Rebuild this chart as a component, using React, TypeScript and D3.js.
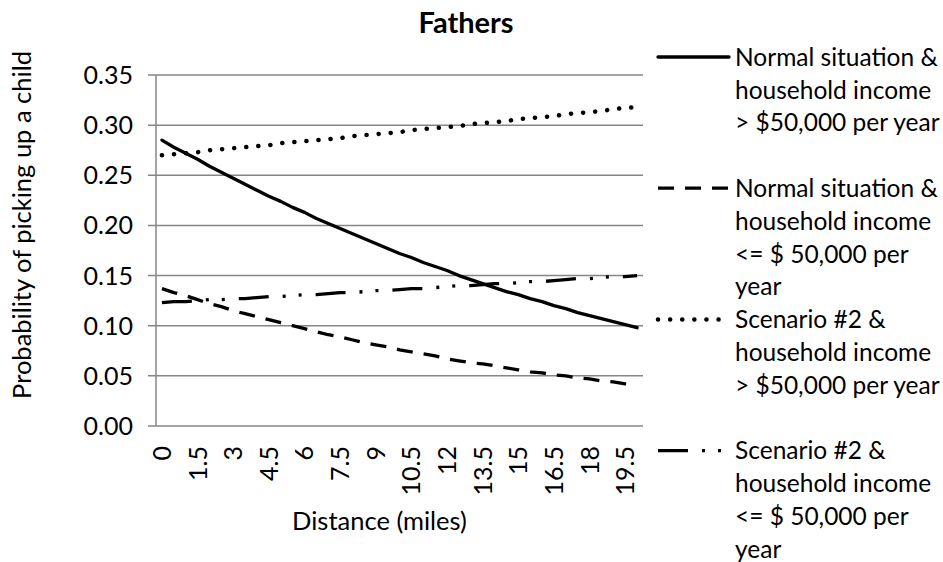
import React, { useEffect, useRef } from 'react'
import * as d3 from 'd3'

// distance categories (miles), every half mile
const distances = [
  0, 0.5, 1, 1.5, 2, 2.5, 3, 3.5, 4, 4.5, 5, 5.5, 6, 6.5, 7, 7.5, 8, 8.5, 9, 9.5, 10,
  10.5, 11, 11.5, 12, 12.5, 13, 13.5, 14, 14.5, 15, 15.5, 16, 16.5, 17, 17.5, 18, 18.5, 19, 19.5, 20,
]

const xTickLabels = ['0', '1.5', '3', '4.5', '6', '7.5', '9', '10.5', '12', '13.5', '15', '16.5', '18', '19.5']
const yTicks = [0, 0.05, 0.1, 0.15, 0.2, 0.25, 0.3, 0.35]

const normalHigh = [
  0.285, 0.278, 0.272, 0.266, 0.259, 0.253, 0.247, 0.241, 0.235, 0.229, 0.224, 0.218, 0.213, 0.207,
  0.202, 0.197, 0.192, 0.187, 0.182, 0.177, 0.172, 0.168, 0.163, 0.159, 0.155, 0.150, 0.146, 0.142,
  0.138, 0.134, 0.131, 0.127, 0.124, 0.120, 0.117, 0.113, 0.110, 0.107, 0.104, 0.101, 0.098,
]
const normalLow = [
  0.137, 0.133, 0.130, 0.126, 0.122, 0.119, 0.115, 0.112, 0.109, 0.106, 0.103, 0.100, 0.097, 0.094,
  0.091, 0.089, 0.086, 0.083, 0.081, 0.079, 0.076, 0.074, 0.072, 0.070, 0.067, 0.065, 0.063, 0.062,
  0.060, 0.058, 0.056, 0.054, 0.053, 0.051, 0.050, 0.048, 0.047, 0.045, 0.044, 0.042, 0.041,
]
const scenarioHigh = [
  0.270, 0.271, 0.272, 0.273, 0.275, 0.276, 0.277, 0.278, 0.279, 0.280, 0.282, 0.283, 0.284, 0.285,
  0.286, 0.287, 0.289, 0.290, 0.291, 0.292, 0.293, 0.295, 0.296, 0.297, 0.298, 0.299, 0.301, 0.302,
  0.303, 0.304, 0.306, 0.307, 0.308, 0.309, 0.311, 0.312, 0.313, 0.314, 0.316, 0.317, 0.318,
]
const scenarioLow = [
  0.123, 0.124, 0.124, 0.125, 0.126, 0.126, 0.127, 0.127, 0.128, 0.129, 0.129, 0.130, 0.131, 0.131,
  0.132, 0.133, 0.133, 0.134, 0.135, 0.135, 0.136, 0.137, 0.137, 0.138, 0.139, 0.140, 0.140, 0.141,
  0.142, 0.142, 0.143, 0.144, 0.144, 0.145, 0.146, 0.147, 0.147, 0.148, 0.149, 0.149, 0.150,
]

const seriesLabels = [
  ['Normal situation &', 'household income', '> $50,000 per year'],
  ['Normal situation &', 'household income', '<= $ 50,000 per', 'year'],
  ['Scenario #2 &', 'household income', '> $50,000 per year'],
  ['Scenario #2 &', 'household income', '<= $ 50,000 per', 'year'],
]

const FONT = 'Lato, Carlito, "Open Sans", sans-serif'

export default function App() {
  const svgRef = useRef<SVGSVGElement>(null)

  useEffect(() => {
    if (!svgRef.current) return
    const svg = d3.select(svgRef.current)
    svg.selectAll('*').remove()

    const W = 943
    const H = 562
    const plot = { left: 156, right: 643, top: 75, bottom: 426 }

    svg.attr('width', W).attr('height', H).style('font-family', FONT)
    svg.append('rect').attr('width', W).attr('height', H).attr('fill', '#fff')

    const x = d3.scalePoint<number>()
      .domain(distances)
      .range([plot.left, plot.right])
      .padding(0.5)

    const y = d3.scaleLinear()
      .domain([0, 0.35])
      .range([plot.bottom, plot.top])

    const gridColor = '#868686'

    // gridlines + y tick stubs
    svg.append('g')
      .selectAll('line')
      .data(yTicks)
      .enter().append('line')
      .attr('x1', plot.left - 8)
      .attr('x2', plot.right)
      .attr('y1', d => y(d))
      .attr('y2', d => y(d))
      .attr('stroke', gridColor)
      .attr('stroke-width', 1.5)

    // y axis line
    svg.append('line')
      .attr('x1', plot.left).attr('x2', plot.left)
      .attr('y1', plot.top).attr('y2', plot.bottom)
      .attr('stroke', gridColor)
      .attr('stroke-width', 1.5)

    // y tick labels
    svg.append('g')
      .selectAll('text')
      .data(yTicks)
      .enter().append('text')
      .attr('x', plot.left - 23)
      .attr('y', d => y(d))
      .attr('dy', '0.36em')
      .attr('text-anchor', 'end')
      .attr('fill', '#000')
      .style('font-size', '25px')
      .text(d => d3.format('.2f')(d))

    // x tick labels, rotated
    svg.append('g')
      .selectAll('text')
      .data(xTickLabels)
      .enter().append('text')
      .attr('transform', d => `translate(${x(+d)},446) rotate(-90)`)
      .attr('dy', '0.36em')
      .attr('text-anchor', 'end')
      .attr('fill', '#000')
      .style('font-size', '25px')
      .text(d => d)

    // title
    svg.append('text')
      .attr('x', 466)
      .attr('y', 33)
      .attr('text-anchor', 'middle')
      .style('font-size', '29px')
      .style('font-weight', 'bold')
      .text('Fathers')

    // axis titles
    svg.append('text')
      .attr('x', (plot.left + plot.right) / 2 - 20)
      .attr('y', 530)
      .attr('text-anchor', 'middle')
      .style('font-size', '25.5px')
      .text('Distance (miles)')

    svg.append('text')
      .attr('transform', `translate(31,225) rotate(-90)`)
      .attr('text-anchor', 'middle')
      .style('font-size', '25.5px')
      .text('Probability of picking up a child')

    const styles = [
      { values: normalHigh, dash: null, cap: 'round', width: 3.3 },
      { values: normalLow, dash: '16 11', cap: 'butt', width: 3.3 },
      { values: scenarioHigh, dash: '0.1 12', cap: 'round', width: 4.5 },
      { values: scenarioLow, dash: '30 14 3 13 3 14', cap: 'butt', width: 3.3 },
    ]

    const line = d3.line<number>()
      .x((_, i) => x(distances[i]) || 0)
      .y(d => y(d))

    styles.forEach(s => {
      svg.append('path')
        .datum(s.values)
        .attr('fill', 'none')
        .attr('stroke', '#000')
        .attr('stroke-width', s.width)
        .attr('stroke-linecap', s.cap)
        .attr('stroke-linejoin', 'round')
        .attr('stroke-dasharray', s.dash)
        .attr('d', line)
    })

    // legend
    const lineH = 32.8
    const legendTop = 57
    const legend = svg.append('g')
    styles.forEach((s, i) => {
      const ly = legendTop + i * lineH * 4
      legend.append('line')
        .attr('x1', 658).attr('x2', 729)
        .attr('y1', ly).attr('y2', ly)
        .attr('stroke', '#000')
        .attr('stroke-width', s.width)
        .attr('stroke-linecap', s.cap)
        .attr('stroke-dasharray', s.dash)
      seriesLabels[i].forEach((t, j) => {
        legend.append('text')
          .attr('x', 735)
          .attr('y', ly + j * lineH)
          .attr('dy', '0.36em')
          .style('font-size', '24.5px')
          .text(t)
      })
    })
  }, [])

  return (
    <div style={{ position: 'absolute', left: 0, top: 0 }}>
      <svg ref={svgRef} style={{ display: 'block' }}></svg>
    </div>
  )
}
